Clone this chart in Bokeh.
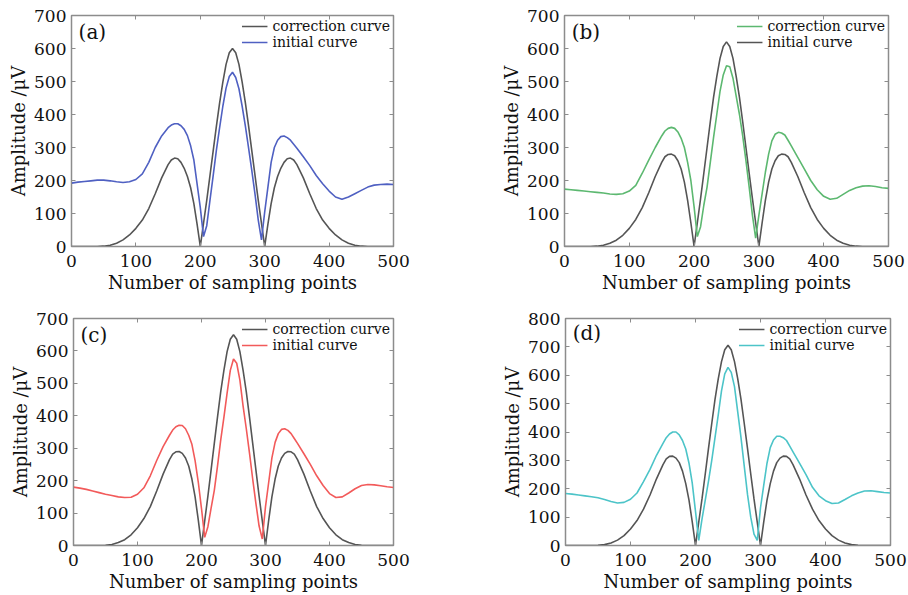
from bokeh.plotting import figure
from bokeh.layouts import column, row
from bokeh.models import Legend, LegendItem, Label, LinearAxis, Range1d, FixedTicker
from bokeh.embed import file_html
from bokeh.resources import INLINE

# Sampling-point positions shared by all curves
x_pts = ([0, 10, 20, 30, 40, 50, 60, 70, 80, 90, 100, 110, 120, 130, 140]
         + list(range(150, 351, 5))
         + [360, 370, 380, 390, 400, 410, 420, 430, 440, 450, 460, 470, 480, 490, 500])

# Panel (a)
corr_a = ([0, 0, 0, 0, 0, 1, 4, 10, 20, 35, 55, 80, 115, 160, 208]
          + [248, 262, 268, 266, 255, 237, 212, 178, 130, 68, 0, 70, 140, 215, 290, 365, 435, 498, 552, 587,
             600, 587, 552, 498, 435, 365, 290, 215, 140, 70, 0, 68, 130, 178, 212, 237, 255, 266, 268, 262, 248]
          + [208, 160, 115, 80, 55, 35, 20, 10, 4, 1, 0, 0, 0, 0, 0])
init_a = ([192, 195, 197, 199, 201, 201, 199, 196, 194, 196, 203, 220, 255, 300, 335]
          + [360, 368, 372, 372, 366, 355, 336, 305, 262, 190, 118, 30, 63, 140, 215, 292, 360, 425, 480, 515,
             528, 512, 478, 425, 365, 298, 230, 158, 80, 20, 105, 180, 255, 300, 322, 333, 335, 330, 322, 310, 298]
          + [272, 245, 215, 190, 168, 150, 143, 150, 160, 170, 180, 186, 188, 189, 188])

# Panel (b)
corr_b = ([0, 0, 0, 0, 0, 1, 4, 10, 19, 34, 55, 82, 118, 163, 212]
          + [255, 272, 279, 280, 275, 260, 235, 195, 140, 72, 0, 72, 145, 222, 300, 378, 452, 515, 570, 606,
             620, 606, 570, 515, 452, 378, 300, 222, 145, 72, 0, 72, 140, 195, 235, 260, 275, 280, 279, 272, 255]
          + [212, 163, 118, 82, 55, 34, 19, 10, 4, 1, 0, 0, 0, 0, 0])
init_b = ([174, 172, 170, 168, 166, 164, 162, 159, 158, 160, 168, 185, 222, 262, 300]
          + [335, 350, 358, 361, 358, 347, 328, 300, 255, 200, 120, 30, 60, 125, 180, 255, 330, 400, 470, 520,
             548, 545, 510, 455, 400, 335, 260, 180, 95, 25, 95, 160, 225, 280, 320, 340, 346, 344, 338, 322, 305]
          + [270, 235, 200, 172, 152, 143, 146, 158, 170, 178, 183, 184, 182, 178, 176])

# Panel (c)
corr_c = ([0, 0, 0, 0, 0, 1, 3, 9, 18, 33, 55, 83, 120, 168, 220]
          + [265, 282, 289, 290, 284, 270, 245, 205, 150, 78, 0, 76, 152, 233, 315, 396, 474, 540, 598, 636,
             650, 636, 598, 540, 474, 396, 315, 233, 152, 76, 0, 78, 150, 205, 245, 270, 284, 290, 289, 282, 265]
          + [220, 168, 120, 83, 55, 33, 18, 9, 3, 1, 0, 0, 0, 0, 0])
init_c = ([180, 177, 173, 168, 163, 158, 154, 150, 148, 149, 158, 178, 215, 262, 305]
          + [340, 356, 366, 371, 370, 360, 340, 312, 262, 195, 114, 25, 58, 115, 170, 245, 325, 395, 470, 540,
             575, 562, 510, 430, 360, 285, 205, 130, 60, 20, 120, 195, 270, 318, 345, 358, 360, 355, 345, 330, 315]
          + [283, 250, 215, 185, 160, 148, 150, 162, 175, 185, 188, 187, 184, 181, 179])

# Panel (d)
corr_d = ([0, 0, 0, 0, 0, 1, 3, 9, 19, 35, 58, 88, 128, 178, 235]
          + [285, 305, 314, 315, 308, 292, 262, 218, 160, 83, 0, 82, 164, 252, 342, 430, 515, 587, 648, 690,
             706, 690, 648, 587, 515, 430, 342, 252, 164, 82, 0, 83, 160, 218, 262, 292, 308, 315, 314, 305, 285]
          + [235, 178, 128, 88, 58, 35, 19, 9, 3, 1, 0, 0, 0, 0, 0])
init_d = ([183, 181, 178, 175, 172, 168, 162, 155, 150, 152, 163, 185, 225, 268, 318]
          + [360, 380, 393, 400, 400, 390, 370, 340, 290, 220, 120, 18, 93, 160, 227, 300, 380, 460, 545, 605,
             628, 610, 560, 470, 380, 280, 180, 100, 40, 18, 133, 213, 290, 345, 372, 385, 385, 380, 370, 350, 330]
          + [290, 250, 205, 175, 158, 148, 150, 162, 175, 185, 192, 193, 190, 187, 185])

x_ticks = [0, 100, 200, 300, 400, 500]
y_max = [700, 700, 700, 800]
panel_tags = ["(a)", "(b)", "(c)", "(d)"]
line_colors = ["#4f60c2", "#5cb870", "#f25a5a", "#4cc4c8"]
# legend text per panel (first row, second row); in panel (b) the coloured line is listed first
legend_labels = [("correction curve", "initial curve"),
                 ("correction curve", "initial curve"),
                 ("correction curve", "initial curve"),
                 ("correction curve", "initial curve")]

FONT = "DejaVu Serif"
FRAME = "#8c8c8c"
GRAY = "#555555"
TXT = "#111111"


def style_axis(ax, standoff):
    ax.axis_line_color = FRAME
    ax.major_tick_line_color = FRAME
    ax.major_tick_in = 4
    ax.major_tick_out = 0
    ax.minor_tick_line_color = None
    ax.major_label_text_font = FONT
    ax.major_label_text_font_size = "17px"
    ax.major_label_text_color = TXT
    ax.axis_label_text_font = FONT
    ax.axis_label_text_font_size = "18px"
    ax.axis_label_text_font_style = "normal"
    ax.axis_label_text_color = TXT
    ax.major_label_standoff = standoff
    ax.axis_label_standoff = 2


def mirror_axis(p, side, ticks):
    ax = LinearAxis(ticker=FixedTicker(ticks=ticks))
    ax.axis_line_color = FRAME
    ax.major_tick_line_color = FRAME
    ax.major_tick_in = 4
    ax.major_tick_out = 0
    ax.minor_tick_line_color = None
    ax.major_label_text_font_size = "0px"
    ax.major_label_text_color = None
    ax.major_label_standoff = 0
    p.add_layout(ax, side)


def make_panel(i, corr, init, width, height, mb_left, mb_right, mb_top, mb_bottom):
    p = figure(width=width, height=height, output_backend="svg", toolbar_location=None,
               x_range=Range1d(0, 500), y_range=Range1d(0, y_max[i]),
               min_border_left=mb_left, min_border_right=mb_right,
               min_border_top=mb_top, min_border_bottom=mb_bottom)
    p.background_fill_color = "white"
    p.border_fill_color = "white"
    p.grid.visible = False
    p.outline_line_color = FRAME
    p.outline_line_width = 1.5

    r_corr = p.line(x_pts, corr, line_color=GRAY, line_width=1.6)
    r_init = p.line(x_pts, init, line_color=line_colors[i], line_width=1.6)

    yt = list(range(0, y_max[i] + 1, 100))
    p.xaxis.ticker = FixedTicker(ticks=x_ticks)
    p.yaxis.ticker = FixedTicker(ticks=yt)
    style_axis(p.xaxis[0], 8)
    style_axis(p.yaxis[0], 5)
    p.xaxis.axis_label = "Number of sampling points"
    p.yaxis.axis_label = "Amplitude /\u03bcV"
    mirror_axis(p, "above", x_ticks)
    mirror_axis(p, "right", yt)

    if i == 1:
        items = [LegendItem(label=legend_labels[i][0], renderers=[r_init]),
                 LegendItem(label=legend_labels[i][1], renderers=[r_corr])]
    else:
        items = [LegendItem(label=legend_labels[i][0], renderers=[r_corr]),
                 LegendItem(label=legend_labels[i][1], renderers=[r_init])]
    leg = Legend(items=items, location="top_right")
    leg.border_line_color = None
    leg.background_fill_alpha = 0
    leg.label_text_font = FONT
    leg.label_text_font_size = "14px"
    leg.label_text_color = TXT
    leg.glyph_width = 26
    leg.glyph_height = 14
    leg.label_height = 14
    leg.label_standoff = 5
    leg.spacing = 0
    leg.padding = 2
    leg.margin = 3
    p.add_layout(leg)

    p.add_layout(Label(x=11, y=y_max[i] - 50, text=panel_tags[i], text_font=FONT,
                       text_font_size="20px", text_color=TXT, text_baseline="middle"))
    return p


pa = make_panel(0, corr_a, init_a, 454, 300, 71, 61, 15, 54)
pb = make_panel(1, corr_b, init_b, 454, 300, 110, 20, 14, 53)
pc = make_panel(2, corr_c, init_c, 454, 295, 73, 61, 13, 50)
pd = make_panel(3, corr_d, init_d, 454, 295, 111, 18, 18, 49)

layout = column(row(pa, pb), row(pc, pd))

open("out.html", "w").write(file_html(layout, INLINE))
